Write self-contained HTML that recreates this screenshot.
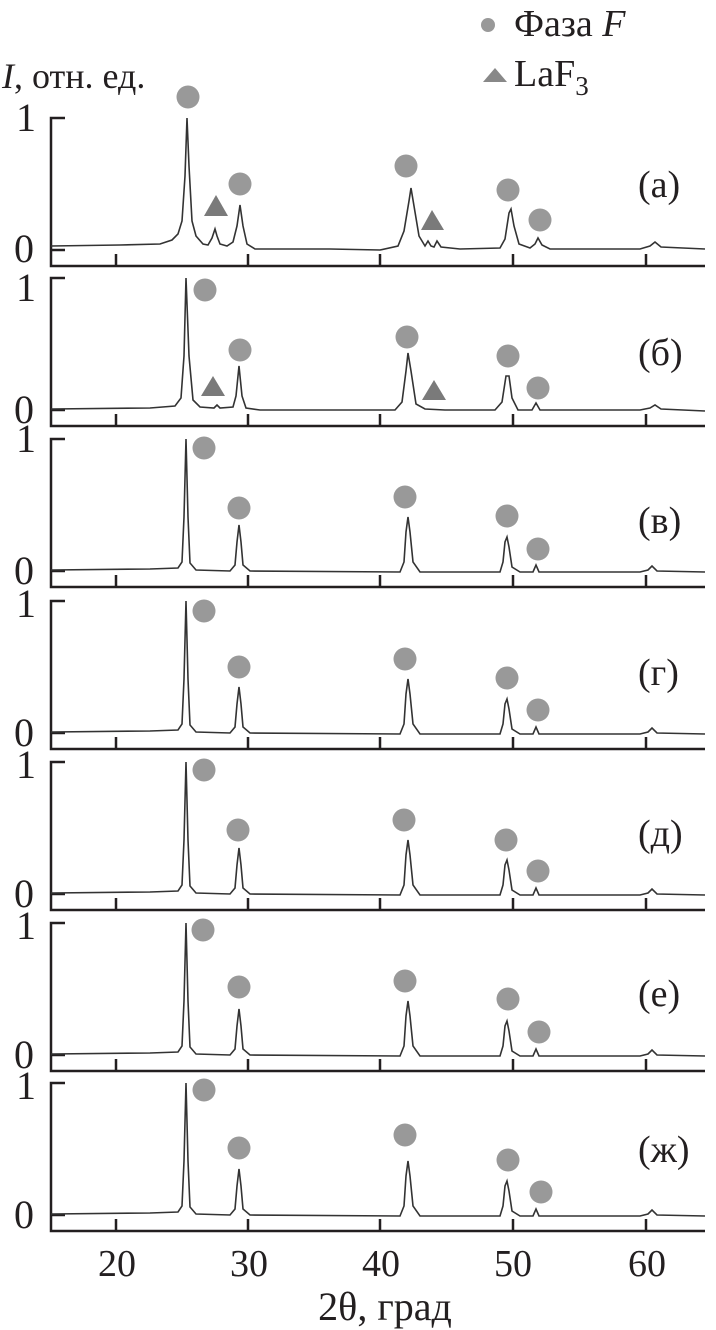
<!DOCTYPE html>
<html><head><meta charset="utf-8"><style>
html,body{margin:0;padding:0;background:#fff}
svg{display:block}
text{font-family:"Liberation Serif",serif;fill:#231f20}
</style></head><body>
<svg width="716" height="1330" viewBox="0 0 716 1330" xmlns="http://www.w3.org/2000/svg">
<defs>
<g id="ax" stroke="#231f20" stroke-width="2.5" fill="none">
<path d="M65,-148 H51 V0 H705"/>
<path d="M51,-16 H65"/>
<path d="M116,0 V-12 M248,0 V-12 M380,0 V-12 M513,0 V-12 M646,0 V-12"/>
</g>
<path id="pa" fill="none" stroke="#333" stroke-width="1.6" d="M51,-20 L120,-21 L160,-22 L172,-26 L178,-32 L182,-45 L185,-90 L187,-148 L189,-100 L192,-45 L196,-30 L203,-22 L208,-21 L212,-28 L215,-37 L217,-30 L220,-22 L227,-20 L233,-24 L237,-40 L240,-61 L243,-40 L247,-22 L255,-17 L330,-17 L380,-16 L398,-20 L404,-35 L409,-65 L411,-78 L414,-60 L419,-30 L425,-20 L428,-25 L431,-20 L434,-19 L437,-25 L441,-19 L460,-17 L500,-18 L505,-27 L509,-53 L511,-57 L514,-40 L519,-22 L530,-18 L535,-22 L538,-28 L542,-21 L550,-17 L640,-17 L650,-20 L655,-24 L661,-19 L705,-17"/>
<path id="pb" fill="none" stroke="#333" stroke-width="1.6" d="M51,-17 L150,-18 L175,-20 L181,-28 L184,-70 L186,-148 L189,-70 L193,-26 L200,-19 L214,-18 L217,-21 L220,-18 L233,-19 L236,-30 L239,-60 L242,-30 L246,-18 L260,-16 L395,-16 L402,-24 L406,-55 L408,-73 L411,-55 L416,-22 L425,-17 L445,-16 L495,-16 L502,-24 L506,-50 L509,-50 L512,-28 L518,-16 L532,-16 L536,-23 L540,-16 L640,-16 L650,-18 L655,-21 L661,-17 L705,-15"/>
<path id="pc" fill="none" stroke="#333" stroke-width="1.6" d="M51,-17 L150,-18 L178,-19 L182,-25 L184,-70 L186,-148 L188,-70 L190,-24 L196,-17 L230,-16 L235,-22 L237,-45 L239,-62 L241,-45 L243,-22 L250,-16 L400,-15 L404,-25 L406,-55 L408,-70 L410,-55 L413,-25 L420,-15 L500,-15 L503,-25 L505,-45 L507,-50 L509,-40 L512,-20 L520,-15 L533,-15 L536,-22 L539,-15 L640,-15 L648,-17 L652,-21 L657,-16 L705,-15"/>
</defs>

<!-- legend -->
<circle cx="488" cy="25" r="7" fill="#999"/>
<text x="514" y="36" font-size="38">Фаза <tspan font-style="italic">F</tspan></text>
<polygon points="483,82 495,68 507,82" fill="#888"/>
<text x="514" y="86" font-size="38">LaF<tspan font-size="27" dy="9">3</tspan></text>
<text x="2" y="88" font-size="36"><tspan font-style="italic">I</tspan>, отн. ед.</text>

<g transform="translate(0,266)">
<use href="#ax"/><use href="#pa"/>
<text x="16" y="-135" font-size="40">1</text><text x="14" y="-4" font-size="40">0</text>
<text x="638" y="-69" font-size="38">(а)</text>
</g>
<g fill="#999"><circle cx="188" cy="97" r="11.5"/><circle cx="240" cy="184" r="11.5"/><circle cx="406" cy="166" r="11.5"/><circle cx="508" cy="190" r="11.5"/><circle cx="540" cy="220" r="11.5"/></g>
<g fill="#7a7a7a"><polygon points="204,216 216,195 228,216"/><polygon points="421,230 432,210 444,230"/></g>

<g transform="translate(0,426)">
<use href="#ax"/><use href="#pb"/>
<text x="16" y="-125" font-size="40">1</text><text x="14" y="-3" font-size="40">0</text>
<text x="638" y="-61" font-size="38">(б)</text>
</g>
<g fill="#999"><circle cx="205" cy="290" r="11.5"/><circle cx="240" cy="350" r="11.5"/><circle cx="407" cy="337" r="11.5"/><circle cx="508" cy="356" r="11.5"/><circle cx="538" cy="388" r="11.5"/></g>
<g fill="#7a7a7a"><polygon points="201,396 213,376 225,396"/><polygon points="422,400 434,380 446,400"/></g>

<g transform="translate(0,587)">
<use href="#ax"/><use href="#pc"/>
<text x="16" y="-135" font-size="40">1</text><text x="14" y="-3" font-size="40">0</text>
<text x="638" y="-54" font-size="38">(в)</text>
</g>
<g fill="#999"><circle cx="204" cy="448" r="11.5"/><circle cx="239" cy="508" r="11.5"/><circle cx="405" cy="497" r="11.5"/><circle cx="507" cy="516" r="11.5"/><circle cx="538" cy="549" r="11.5"/></g>

<g transform="translate(0,749)">
<use href="#ax"/><use href="#pc"/>
<text x="16" y="-132" font-size="40">1</text><text x="14" y="-3" font-size="40">0</text>
<text x="638" y="-64" font-size="38">(г)</text>
</g>
<g fill="#999"><circle cx="204" cy="611" r="11.5"/><circle cx="239" cy="667" r="11.5"/><circle cx="405" cy="659" r="11.5"/><circle cx="507" cy="678" r="11.5"/><circle cx="538" cy="710" r="11.5"/></g>

<g transform="translate(0,910)">
<use href="#ax"/><use href="#pc"/>
<text x="16" y="-132" font-size="40">1</text><text x="14" y="-3" font-size="40">0</text>
<text x="638" y="-64" font-size="38">(д)</text>
</g>
<g fill="#999"><circle cx="204" cy="770" r="11.5"/><circle cx="238" cy="830" r="11.5"/><circle cx="404" cy="820" r="11.5"/><circle cx="506" cy="840" r="11.5"/><circle cx="538" cy="871" r="11.5"/></g>

<g transform="translate(0,1071)">
<use href="#ax"/><use href="#pc"/>
<text x="16" y="-132" font-size="40">1</text><text x="14" y="-3" font-size="40">0</text>
<text x="638" y="-65" font-size="38">(е)</text>
</g>
<g fill="#999"><circle cx="203" cy="930" r="11.5"/><circle cx="239" cy="987" r="11.5"/><circle cx="405" cy="981" r="11.5"/><circle cx="508" cy="999" r="11.5"/><circle cx="539" cy="1032" r="11.5"/></g>

<g transform="translate(0,1231)">
<use href="#ax"/><use href="#pc"/>
<text x="16" y="-132" font-size="40">1</text><text x="14" y="-3" font-size="40">0</text>
<text x="638" y="-69" font-size="38">(ж)</text>
</g>
<g fill="#999"><circle cx="204" cy="1090" r="11.5"/><circle cx="239" cy="1148" r="11.5"/><circle cx="405" cy="1135" r="11.5"/><circle cx="508" cy="1160" r="11.5"/><circle cx="541" cy="1192" r="11.5"/></g>

<g font-size="38">
<text x="117" y="1276" text-anchor="middle">20</text>
<text x="249" y="1276" text-anchor="middle">30</text>
<text x="381" y="1276" text-anchor="middle">40</text>
<text x="513" y="1276" text-anchor="middle">50</text>
<text x="647" y="1276" text-anchor="middle">60</text>
<text x="385" y="1320" text-anchor="middle" font-size="40">2θ, град</text>
</g>
</svg>
</body></html>
